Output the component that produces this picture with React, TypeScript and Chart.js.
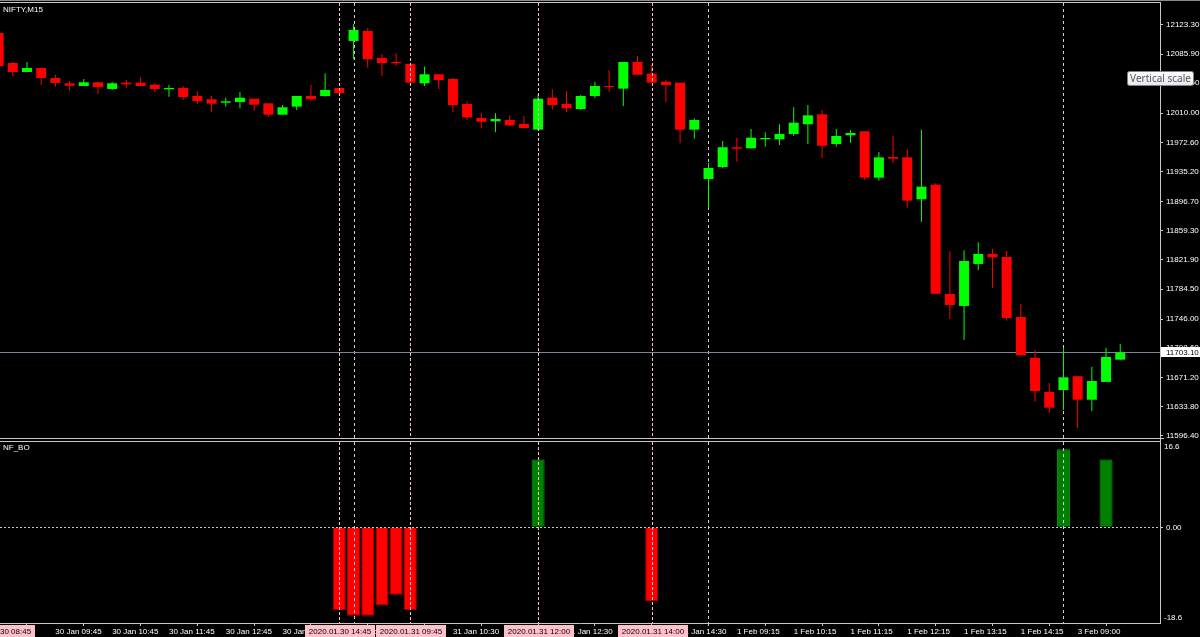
import React, { useEffect, useRef } from "react";
import { Chart, registerables } from "chart.js";

Chart.register(...registerables);

// ---------------- DATA ----------------
const symbolLabel = "NIFTY,M15";
const indicatorLabel = "NF_BO";

const barTimes = [
  "30 Jan 08:45", "30 Jan 09:00", "30 Jan 09:15", "30 Jan 09:30", "30 Jan 09:45", "30 Jan 10:00", "30 Jan 10:15", "30 Jan 10:30", "30 Jan 10:45", "30 Jan 11:00",
  "30 Jan 11:15", "30 Jan 11:30", "30 Jan 11:45", "30 Jan 12:00", "30 Jan 12:15", "30 Jan 12:30", "30 Jan 12:45", "30 Jan 13:00", "30 Jan 13:15", "30 Jan 13:30",
  "30 Jan 13:45", "30 Jan 14:00", "30 Jan 14:15", "30 Jan 14:30", "30 Jan 14:45",
  "31 Jan 08:45", "31 Jan 09:00", "31 Jan 09:15", "31 Jan 09:30", "31 Jan 09:45", "31 Jan 10:00", "31 Jan 10:15", "31 Jan 10:30", "31 Jan 10:45", "31 Jan 11:00",
  "31 Jan 11:15", "31 Jan 11:30", "31 Jan 11:45", "31 Jan 12:00", "31 Jan 12:15", "31 Jan 12:30", "31 Jan 12:45", "31 Jan 13:00", "31 Jan 13:15", "31 Jan 13:30",
  "31 Jan 13:45", "31 Jan 14:00", "31 Jan 14:15", "31 Jan 14:30", "31 Jan 14:45",
  "1 Feb 08:45", "1 Feb 09:00", "1 Feb 09:15", "1 Feb 09:30", "1 Feb 09:45", "1 Feb 10:00", "1 Feb 10:15", "1 Feb 10:30", "1 Feb 10:45", "1 Feb 11:00",
  "1 Feb 11:15", "1 Feb 11:30", "1 Feb 11:45", "1 Feb 12:00", "1 Feb 12:15", "1 Feb 12:30", "1 Feb 12:45", "1 Feb 13:00", "1 Feb 13:15", "1 Feb 13:30",
  "1 Feb 13:45", "1 Feb 14:00", "1 Feb 14:15", "1 Feb 14:30", "1 Feb 14:45",
  "3 Feb 08:45", "3 Feb 09:00", "3 Feb 09:15", "3 Feb 09:30", "3 Feb 09:45",
];

const opens = [
  12113.0, 12074.5, 12063.0, 12068.1, 12055.3, 12048.5, 12045.0, 12049.8, 12041.2, 12049.3,
  12049.3, 12046.7, 12040.8, 12042.5, 12032.2, 12028.0, 12023.6, 12024.5, 12028.7, 12022.8,
  12008.2, 12018.5, 12032.2, 12032.2, 12042.5, 12102.8, 12115.6, 12080.9, 12075.8, 12073.3,
  12048.5, 12060.0, 12054.0, 12021.9, 12004.0, 11999.7, 12001.4, 11996.3, 11989.0, 12030.0,
  12021.9, 12015.5, 12032.2, 12045.0, 12041.6, 12075.8, 12060.8, 12050.5, 12049.3, 11989.0,
  11925.7, 11941.1, 11966.4, 11965.1, 11976.6, 11976.6, 11983.4, 11995.9, 12008.7, 11970.6,
  11981.8, 11986.9, 11927.4, 11953.9, 11953.5, 11899.7, 11918.4, 11778.2, 11762.8, 11816.7,
  11829.5, 11825.6, 11748.7, 11696.4, 11652.4, 11655.0, 11672.6, 11642.5, 11665.3, 11693.9,
];
const highs = [
  12115.6, 12075.8, 12075.8, 12068.5, 12059.5, 12051.4, 12054.0, 12050.2, 12050.5, 12052.7,
  12056.2, 12048.5, 12046.3, 12045.0, 12038.2, 12032.2, 12030.0, 12037.3, 12028.7, 12022.8,
  12020.6, 12032.2, 12046.3, 12061.3, 12042.5, 12124.6, 12119.4, 12086.1, 12087.0, 12073.3,
  12069.8, 12060.0, 12055.3, 12025.4, 12010.8, 12010.0, 12007.8, 12006.5, 12034.4, 12040.8,
  12038.6, 12033.5, 12050.5, 12065.6, 12075.8, 12083.9, 12072.0, 12052.7, 12049.3, 12003.6,
  11946.2, 11974.5, 11978.7, 11989.9, 11985.6, 11995.9, 12017.7, 12020.6, 12014.2, 11989.9,
  11988.6, 11986.9, 11960.3, 11980.9, 11963.8, 11989.0, 11920.2, 11832.9, 11834.2, 11844.5,
  11836.3, 11833.7, 11765.3, 11706.3, 11664.0, 11708.9, 11672.6, 11684.9, 11709.3, 11714.0,
];
const lows = [
  12069.4, 12057.9, 12063.0, 12046.3, 12044.1, 12039.0, 12045.0, 12034.8, 12039.9, 12042.8,
  12045.0, 12036.9, 12031.3, 12027.1, 12021.9, 12011.7, 12018.5, 12016.4, 12013.0, 12005.6,
  12008.2, 12014.2, 12025.8, 12031.3, 12036.0, 12079.3, 12068.5, 12057.9, 12071.1, 12045.0,
  12045.0, 12041.2, 12011.7, 12001.4, 11991.1, 11985.6, 11993.7, 11991.1, 11989.0, 12015.1,
  12011.7, 12014.2, 12029.6, 12037.3, 12019.4, 12058.8, 12049.3, 12024.5, 11971.5, 11977.4,
  11888.9, 11939.8, 11947.9, 11965.1, 11967.1, 11969.3, 11980.9, 11970.6, 11952.6, 11967.1,
  11972.3, 11924.4, 11923.5, 11945.8, 11888.9, 11870.9, 11778.5, 11746.1, 11719.1, 11809.0,
  11786.2, 11743.9, 11699.5, 11640.0, 11625.5, 11629.3, 11606.2, 11628.0, 11665.3, 11693.9,
];
const closes = [
  12070.7, 12063.0, 12068.1, 12055.3, 12048.9, 12045.4, 12049.8, 12043.7, 12048.5, 12047.2,
  12045.0, 12041.2, 12042.5, 12030.9, 12025.8, 12022.3, 12025.4, 12030.0, 12021.0, 12008.2,
  12017.7, 12032.2, 12028.0, 12039.9, 12036.0, 12116.9, 12079.3, 12074.5, 12074.2, 12049.3,
  12060.0, 12052.7, 12020.6, 12004.9, 11999.2, 12002.7, 11994.6, 11991.1, 12028.7, 12020.6,
  12016.4, 12032.2, 12045.0, 12043.7, 12075.8, 12059.5, 12049.3, 12046.3, 11989.0, 12001.4,
  11939.8, 11966.4, 11964.6, 11978.7, 11978.3, 11983.4, 11997.9, 12007.4, 11968.4, 11980.9,
  11984.7, 11927.4, 11953.5, 11951.8, 11897.9, 11915.8, 11778.5, 11764.0, 11820.5, 11829.5,
  11825.2, 11747.4, 11699.5, 11653.7, 11632.3, 11671.3, 11642.5, 11666.5, 11697.3, 11703.1,
];

const priceTicks = [
  12123.3, 12085.9, 12048.5, 12010.0, 11972.6, 11935.2, 11896.7, 11859.3,
  11821.9, 11784.5, 11746.0, 11708.6, 11671.2, 11633.8, 11596.4,
];

// NF_BO indicator histogram (bar index -> value)
const boBars = [24, 25, 26, 27, 28, 29, 38, 46, 75, 78];
const boValues = [-16.1, -17.2, -17.2, -15.2, -13.1, -16.1, 13.2, -14.3, 15.2, 13.2];
const boMax = 16.6;
const boMin = -18.6;

// x-axis time labels (bar indices)
const timeLabelBars = [4, 8, 12, 16, 20, 24, 28, 32, 36, 40, 44, 48, 52, 56, 60, 64, 68, 72, 76];
// day period separators (bar indices)
const separatorBars = [25, 50, 75];
// vertical line objects (bar indices + labels)
const markerBars = [0, 24, 29, 38, 46];
const markerLabels = ["2020.01.30 08:45", "2020.01.30 14:45", "2020.01.31 09:45", "2020.01.31 12:00", "2020.01.31 14:00"];

const tooltipText = "Vertical scale";

// ---------------- STYLE ----------------
const X_MIN = 0.1;
const X_MAX = 81.8;
const PRICE_MIN = 11593.4;
const PRICE_MAX = 12151.5;
const FONT_FAMILY = "'Liberation Sans', Arial, sans-serif";
const AXIS_COLOR = "#c8c8c8";
const TEXT_COLOR = "#ffffff";
const BULL = "#00ff00";
const BEAR = "#ff0000";
const PINK = "#ffc0cb";
const SEP_COLOR = "#d0d0d0";
const BID_COLOR = "#7a8796";

function drawVLines(chart: any, bars: number[], color: string, dash: number[], top: number, bottom: number) {
  const { ctx, chartArea } = chart;
  const xs = chart.scales.x;
  ctx.save();
  ctx.strokeStyle = color;
  ctx.lineWidth = 1;
  ctx.setLineDash(dash);
  bars.forEach((b) => {
    const px = xs.getPixelForValue(b);
    if (px < chartArea.left || px > chartArea.right) return;
    const x = Math.round(px) + 0.5;
    ctx.beginPath();
    ctx.moveTo(x, top);
    ctx.lineTo(x, bottom);
    ctx.stroke();
  });
  ctx.restore();
}

const mainDecor = {
  id: "mainDecor",
  beforeDatasetsDraw(chart: any) {
    const { ctx, chartArea: a, scales } = chart;
    drawVLines(chart, separatorBars, SEP_COLOR, [3, 3], a.top, a.bottom);
    const last = closes[closes.length - 1];
    const y = Math.round(scales.y.getPixelForValue(last)) + 0.5;
    ctx.save();
    ctx.strokeStyle = BID_COLOR;
    ctx.lineWidth = 1;
    ctx.beginPath();
    ctx.moveTo(a.left, y);
    ctx.lineTo(a.right, y);
    ctx.stroke();
    ctx.restore();
  },
  afterDatasetsDraw(chart: any) {
    const a = chart.chartArea;
    drawVLines(chart, markerBars, PINK, [3, 2], a.top, a.bottom);
  },
  afterDraw(chart: any) {
    const { ctx, chartArea: a, scales } = chart;
    ctx.save();
    // frame
    ctx.fillStyle = "#8a8a8a";
    ctx.fillRect(0, 0, chart.width, 1);
    ctx.fillStyle = AXIS_COLOR;
    ctx.fillRect(0, 2, a.right + 1, 1);
    ctx.fillRect(0, a.bottom, a.right + 4, 1);
    ctx.fillRect(a.right, a.bottom, 1, chart.height - a.bottom);
    // symbol label
    ctx.font = `8px ${FONT_FAMILY}`;
    ctx.fillStyle = TEXT_COLOR;
    ctx.textAlign = "left";
    ctx.textBaseline = "middle";
    ctx.fillText(symbolLabel, 3, 10);
    // bid price label
    const last = closes[closes.length - 1];
    const yb = scales.y.getPixelForValue(last);
    ctx.fillStyle = "#ffffff";
    ctx.fillRect(a.right + 1, Math.round(yb) - 5, chart.width - a.right - 1, 10);
    ctx.fillStyle = "#000000";
    ctx.fillText(last.toFixed(2), a.right + 6, Math.round(yb) + 0.5);
    // "Vertical scale" tooltip
    const tx = 1127.5, ty = 71.5, tw = 66, th = 14;
    const g = ctx.createLinearGradient(0, ty, 0, ty + th);
    g.addColorStop(0, "#ffffff");
    g.addColorStop(1, "#e6e7ee");
    ctx.fillStyle = g;
    ctx.beginPath();
    ctx.roundRect(tx, ty, tw, th, 2);
    ctx.fill();
    ctx.strokeStyle = "#808080";
    ctx.lineWidth = 1;
    ctx.stroke();
    ctx.font = "10px 'Noto Sans', sans-serif";
    ctx.fillStyle = "#555560";
    ctx.textAlign = "center";
    ctx.fillText(tooltipText, tx + tw / 2, ty + th / 2 + 0.5);
    ctx.restore();
  },
};

const indDecor = {
  id: "indDecor",
  afterDatasetsDraw(chart: any) {
    const { ctx, chartArea: a, scales } = chart;
    const zy = Math.round(scales.y.getPixelForValue(0)) + 0.5;
    ctx.save();
    ctx.strokeStyle = AXIS_COLOR;
    ctx.lineWidth = 1;
    ctx.setLineDash([2, 2]);
    ctx.beginPath();
    ctx.moveTo(a.left, zy);
    ctx.lineTo(a.right, zy);
    ctx.stroke();
    ctx.restore();
    drawVLines(chart, separatorBars, SEP_COLOR, [3, 3], a.top, a.bottom);
    drawVLines(chart, markerBars, PINK, [3, 2], a.top, a.bottom);
  },
  afterDraw(chart: any) {
    const { ctx, chartArea: a, scales } = chart;
    ctx.save();
    ctx.fillStyle = AXIS_COLOR;
    ctx.fillRect(0, a.top - 1, a.right + 1, 1);
    ctx.fillRect(a.right, 0, 1, a.top);
    ctx.font = `8px ${FONT_FAMILY}`;
    ctx.fillStyle = TEXT_COLOR;
    ctx.textAlign = "left";
    ctx.textBaseline = "top";
    ctx.fillText(boMax.toFixed(1), a.right + 4, a.top + 1);
    ctx.textBaseline = "bottom";
    ctx.fillText(boMin.toFixed(1), a.right + 4, a.bottom - 1);
    ctx.textBaseline = "middle";
    ctx.fillText(indicatorLabel, 3, a.top + 6);
    // vertical line object labels on the time axis
    markerBars.forEach((b, k) => {
      const x = scales.x.getPixelForValue(b);
      const label = markerLabels[k];
      const w = Math.round(ctx.measureText(label).width + 8);
      const bx = Math.round(x + 1 - w / 2);
      ctx.fillStyle = PINK;
      ctx.fillRect(bx, a.bottom + 2, w, chart.height - a.bottom - 2);
      ctx.fillStyle = "#000000";
      ctx.textAlign = "center";
      ctx.fillText(label, bx + w / 2, a.bottom + 8.5);
    });
    ctx.restore();
  },
};

export default function App() {
  const mainRef = useRef<HTMLCanvasElement>(null);
  const indRef = useRef<HTMLCanvasElement>(null);

  useEffect(() => {
    Chart.defaults.font.family = FONT_FAMILY;
    const bull = closes.map((c, i) => c >= opens[i]);
    const bodyData = closes.map((c, i) => ({ x: i, y: [opens[i], c] }));
    const wickData = highs.map((h, i) => ({ x: i, y: [lows[i], h] }));
    const tickFont = { family: FONT_FAMILY, size: 8 };

    const mainChart = new Chart(mainRef.current as HTMLCanvasElement, {
      type: "bar",
      data: {
        datasets: [
          {
            data: bodyData as any,
            backgroundColor: bull.map((b) => (b ? BULL : BEAR)),
            borderWidth: 0,
            barThickness: 10,
            minBarLength: 1,
            grouped: false,
            inflateAmount: 0,
            order: 0,
          },
          {
            data: wickData as any,
            backgroundColor: bull.map((b) => (b ? BULL : BEAR)),
            borderWidth: 0,
            barThickness: 1,
            minBarLength: 1,
            grouped: false,
            inflateAmount: 0,
            order: 1,
          },
        ],
      },
      options: {
        animation: false,
        responsive: false,
        maintainAspectRatio: false,
        devicePixelRatio: 1,
        events: [],
        layout: { padding: { top: 3, bottom: 2, left: 0, right: 0 }, autoPadding: false },
        plugins: { legend: { display: false }, tooltip: { enabled: false } },
        scales: {
          x: { type: "linear", min: X_MIN, max: X_MAX, display: false, offset: false },
          y: {
            type: "linear",
            position: "right",
            min: PRICE_MIN,
            max: PRICE_MAX,
            afterFit: (s: any) => {
              s.width = 40;
              s.paddingTop = 0;
              s.paddingBottom = 0;
            },
            afterBuildTicks: (s: any) => {
              s.ticks = priceTicks.map((v) => ({ value: v }));
            },
            ticks: {
              autoSkip: false,
              color: TEXT_COLOR,
              font: tickFont,
              padding: 3,
              callback: (v: any) => Number(v).toFixed(2),
            },
            grid: { drawOnChartArea: false, drawTicks: true, tickLength: 3, color: AXIS_COLOR },
            border: { display: true, color: AXIS_COLOR },
          },
        },
      } as any,
      plugins: [mainDecor],
    });

    const indChart = new Chart(indRef.current as HTMLCanvasElement, {
      type: "bar",
      data: {
        datasets: [
          {
            data: boBars.map((b, k) => ({ x: b, y: boValues[k] })) as any,
            backgroundColor: boValues.map((v) => (v >= 0 ? "#008000" : "#ff0000")),
            borderColor: boValues.map((v) => (v >= 0 ? "#00a000" : "#b40000")),
            borderWidth: 1,
            barThickness: 13,
            grouped: false,
            inflateAmount: 0,
          },
        ],
      },
      options: {
        animation: false,
        responsive: false,
        maintainAspectRatio: false,
        devicePixelRatio: 1,
        events: [],
        layout: { padding: { top: 2, bottom: 0, left: 0, right: 0 }, autoPadding: false },
        plugins: { legend: { display: false }, tooltip: { enabled: false } },
        scales: {
          x: {
            type: "linear",
            position: "bottom",
            min: X_MIN,
            max: X_MAX,
            offset: false,
            afterFit: (s: any) => {
              s.height = 14;
              s.paddingLeft = 0;
              s.paddingRight = 0;
            },
            afterBuildTicks: (s: any) => {
              s.ticks = timeLabelBars.map((v) => ({ value: v }));
            },
            ticks: {
              autoSkip: false,
              maxRotation: 0,
              minRotation: 0,
              align: "start",
              padding: 1,
              color: TEXT_COLOR,
              font: tickFont,
              callback: (v: any) => barTimes[Math.round(Number(v))],
            },
            grid: { drawOnChartArea: false, drawTicks: true, tickLength: 3, color: AXIS_COLOR },
            border: { display: true, color: AXIS_COLOR },
          },
          y: {
            type: "linear",
            position: "right",
            min: boMin,
            max: boMax,
            afterFit: (s: any) => {
              s.width = 40;
              s.paddingTop = 0;
              s.paddingBottom = 0;
            },
            afterBuildTicks: (s: any) => {
              s.ticks = [{ value: 0 }];
            },
            ticks: {
              autoSkip: false,
              color: TEXT_COLOR,
              font: tickFont,
              padding: 3,
              callback: (v: any) => Number(v).toFixed(2),
            },
            grid: { drawOnChartArea: false, drawTicks: true, tickLength: 3, color: AXIS_COLOR },
            border: { display: true, color: AXIS_COLOR },
          },
        },
      } as any,
      plugins: [indDecor],
    });

    return () => {
      mainChart.destroy();
      indChart.destroy();
    };
  }, []);

  return (
    <div style={{ position: "fixed", left: 0, top: 0, width: 1200, height: 637, background: "#000", overflow: "hidden" }}>
      <canvas ref={mainRef} width={1200} height={440} style={{ position: "absolute", left: 0, top: 0, width: 1200, height: 440 }} />
      <canvas ref={indRef} width={1200} height={197} style={{ position: "absolute", left: 0, top: 440, width: 1200, height: 197 }} />
    </div>
  );
}
